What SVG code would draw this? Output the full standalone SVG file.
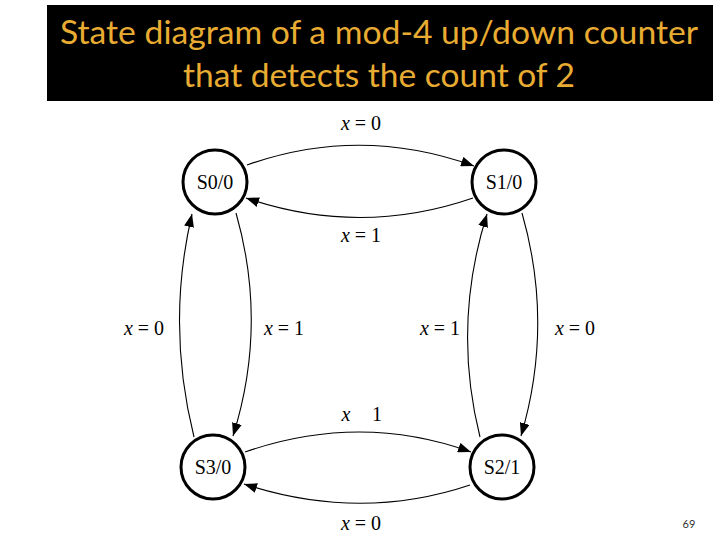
<svg xmlns="http://www.w3.org/2000/svg" width="720" height="540" viewBox="0 0 720 540">
<defs>
<style>
.st{fill:#fff;stroke:#000;stroke-width:3}
.sl{font-family:"Liberation Serif",serif;font-size:20px;fill:#000;text-anchor:middle}
.lb{font-family:"Liberation Serif",serif;font-size:20px;fill:#000;text-anchor:middle}
.e{fill:none;stroke:#000;stroke-width:1.1;marker-end:url(#ah)}
.ti{font-family:"Lato","Open Sans",sans-serif;font-size:33px;fill:#E9AC32;text-anchor:middle}
</style>
<marker id="ah" markerUnits="userSpaceOnUse" markerWidth="14" markerHeight="10" refX="13" refY="5" orient="auto">
<path d="M0,0 L13,5 L0,10 Z" fill="#000"/>
</marker>
</defs>
<rect width="720" height="540" fill="#fff"/>
<g id="title">
<rect x="47" y="5" width="666" height="96" fill="#000"/>
<text class="ti" x="379" y="44" textLength="638" lengthAdjust="spacingAndGlyphs">State diagram of a mod-4 up/down counter</text>
<text class="ti" x="379" y="87" textLength="392" lengthAdjust="spacingAndGlyphs">that detects the count of 2</text>
</g>
<g id="connectors">
<path class="e" d="M247,165 Q360,125 474,166"/>
<path class="e" d="M473,198 Q360,237 246,198"/>
<path class="e" d="M194,437 Q166,325 192,214"/>
<path class="e" d="M236,213 Q268,325 233,436"/>
<path class="e" d="M480,437 Q452,325 487,214"/>
<path class="e" d="M522,213 Q554,325 521,436"/>
<path class="e" d="M245,452 Q360,412 471,452"/>
<path class="e" d="M470,485 Q360,522 244,484"/>
</g>
<g id="labels">
<text class="lb" x="361" y="130"><tspan font-style="italic">x</tspan> = 0</text>
<text class="lb" x="361" y="242"><tspan font-style="italic">x</tspan> = 1</text>
<text class="lb" x="144" y="335"><tspan font-style="italic">x</tspan> = 0</text>
<text class="lb" x="284" y="335"><tspan font-style="italic">x</tspan> = 1</text>
<text class="lb" x="440" y="335"><tspan font-style="italic">x</tspan> = 1</text>
<text class="lb" x="575" y="335"><tspan font-style="italic">x</tspan> = 0</text>
<text class="lb" x="346" y="421" font-style="italic">x</text>
<text class="lb" x="377" y="421">1</text>
<text class="lb" x="361" y="530"><tspan font-style="italic">x</tspan> = 0</text>
</g>
<g id="S0"><circle class="st" cx="215" cy="182" r="32"/><text class="sl" x="215" y="189">S0/0</text></g>
<g id="S1"><circle class="st" cx="504" cy="182" r="32"/><text class="sl" x="504" y="189">S1/0</text></g>
<g id="S3"><circle class="st" cx="213" cy="467" r="32"/><text class="sl" x="213" y="474">S3/0</text></g>
<g id="S2"><circle class="st" cx="502" cy="467" r="32"/><text class="sl" x="502" y="474">S2/1</text></g>
<text x="689" y="528" font-family="Lato,'Open Sans',sans-serif" font-size="11" fill="#333" text-anchor="middle">69</text>
</svg>
